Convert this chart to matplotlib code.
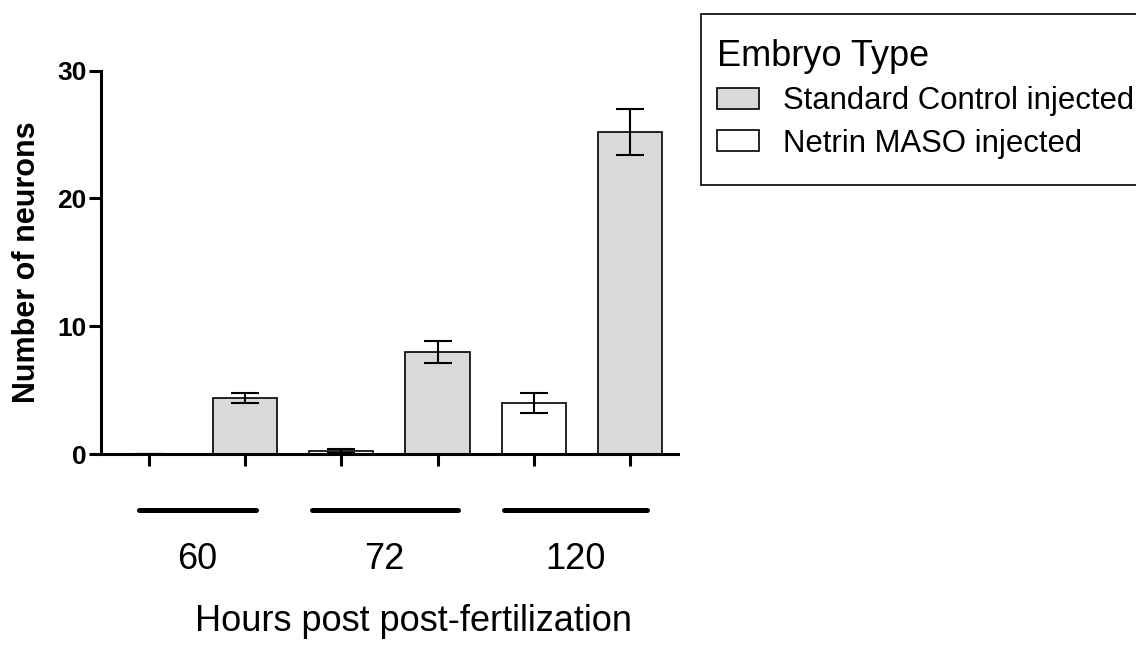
import matplotlib

matplotlib.use("Agg")
import matplotlib.pyplot as plt
import numpy as np
from matplotlib.patches import Patch, Rectangle

plt.rcParams["font.family"] = ["Liberation Sans", "DejaVu Sans"]

hours = ["60", "72", "120"]
netrin_mean = [0.0, 0.25, 4.0]
netrin_sem = [0.0, 0.15, 0.77]
standard_mean = [4.4, 8.0, 25.2]
standard_sem = [0.4, 0.86, 1.83]

gray = "#d9d9d9"

fig = plt.figure(figsize=(11.36, 6.45), dpi=100)
ax = fig.add_axes([0.0889, 0.2961, 0.5079, 0.5943])

group = np.arange(len(hours))
netrin_x = group * 2
standard_x = group * 2 + 1
width = 0.667
err_kw = dict(ecolor="black", elinewidth=1.5, capsize=10, capthick=1.5)

ax.bar(netrin_x, netrin_mean, width, color="white", edgecolor="black",
       linewidth=1.2, zorder=2)
ax.errorbar(netrin_x, netrin_mean, yerr=netrin_sem, fmt="none", zorder=3, **err_kw)
ax.bar(standard_x, standard_mean, width, color=gray, edgecolor="black",
       linewidth=1.2, zorder=2)
ax.errorbar(standard_x, standard_mean, yerr=standard_sem, fmt="none", zorder=3, **err_kw)

ax.set_xlim(-0.5, 5.5)
ax.set_ylim(0, 30)
ax.set_yticks([0, 10, 20, 30])
ax.set_xticks(np.arange(6))
ax.set_xticklabels([])
for side in ("top", "right"):
    ax.spines[side].set_visible(False)
for side in ("left", "bottom"):
    ax.spines[side].set_linewidth(2.2)
    ax.spines[side].set_zorder(4)
ax.tick_params(axis="both", direction="out", length=8.5, width=2.2, pad=2)
for label in ax.get_yticklabels():
    label.set_fontsize(19)
    label.set_fontweight("bold")

ax.set_ylabel("Number of neurons", fontsize=22, fontweight="bold")
ax.yaxis.set_label_coords(-0.102, 0.5)

# group bars under the axis, with the hour labels
spans = [(-0.10, 1.11), (1.69, 3.21), (3.69, 5.18)]
trans = ax.get_xaxis_transform()
for (x0, x1), hour in zip(spans, hours):
    ax.plot([x0, x1], [-0.146, -0.146], color="black", lw=3.6,
            solid_capstyle="round", transform=trans, clip_on=False)
    ax.text((x0 + x1) / 2, -0.301, hour, ha="center", va="baseline",
            fontsize=26, transform=trans)

ax.text(2.745, -0.463, "Hours post post-fertilization", ha="center",
        va="baseline", fontsize=26, transform=trans)

# legend with a frame running off the right edge
fig.patches.append(Rectangle((0.6168, 0.7132), 0.45, 0.2651, transform=fig.transFigure,
                             facecolor="white", edgecolor="black", linewidth=1.2))
handles = [Patch(facecolor=gray, edgecolor="black", linewidth=1.2),
           Patch(facecolor="white", edgecolor="black", linewidth=1.2)]
leg = fig.legend(handles, ["Standard Control injected", "Netrin MASO injected"],
                 title="Embryo Type", loc="upper left",
                 bbox_to_anchor=(0.631, 0.939), frameon=False, fontsize=22.4,
                 title_fontsize=26, alignment="left", handlelength=1.37,
                 handleheight=0.675, handletextpad=0.77, labelspacing=0.39,
                 borderaxespad=0, borderpad=0)

fig.savefig("out.png", dpi=100)
